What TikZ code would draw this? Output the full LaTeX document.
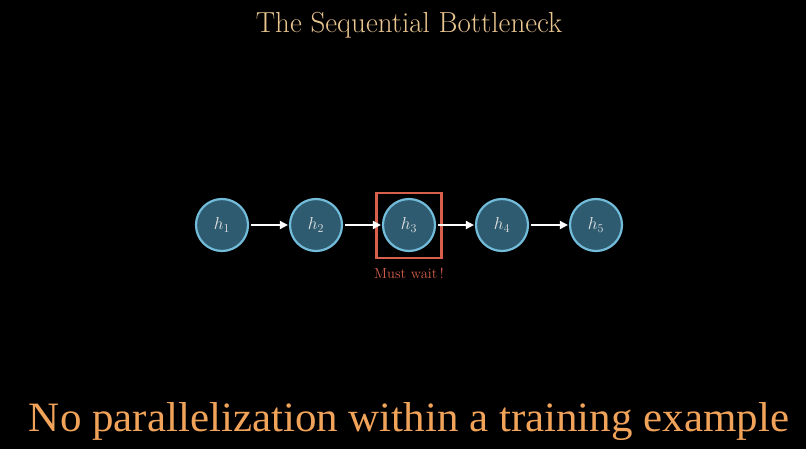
\documentclass[tikz,border=0pt]{standalone}
\usepackage{fontspec}
\newfontfamily\capfont{Liberation Serif}
\usetikzlibrary{arrows.meta}
\definecolor{bg}{HTML}{000000}
\definecolor{nodefill}{HTML}{2E5B6F}
\definecolor{nodeedge}{HTML}{72BCDA}
\definecolor{boxred}{HTML}{D7604C}
\definecolor{titlecol}{HTML}{E9C590}
\definecolor{capcol}{HTML}{F2A35A}
\tikzset{
  hnode/.style={circle,draw=nodeedge,fill=nodefill,line width=2.2pt,minimum size=52pt,inner sep=0pt,text=white!90!black,font=\fontsize{18}{18}\selectfont},
  flow/.style={draw=white,line width=1.8pt,-{Triangle[length=8pt,width=8pt]}},
  waitbox/.style={draw=boxred,line width=2.5pt,minimum width=65pt,minimum height=65pt,inner sep=0pt},
}
\begin{document}
\begin{tikzpicture}[x=1pt,y=1pt]
\fill[bg] (0,0) rectangle (806,-449);
\useasboundingbox (0,0) rectangle (806,-449);
\node[text=titlecol,font=\fontsize{29}{29}\selectfont] (title) at (409,-25) {The Sequential Bottleneck};
\node[hnode] (h1) at (222,-225) {$h_1$};
\node[hnode] (h2) at (316,-225) {$h_2$};
\node[hnode] (h3) at (409,-225) {$h_3$};
\node[hnode] (h4) at (502,-225) {$h_4$};
\node[hnode] (h5) at (596,-225) {$h_5$};
\node[waitbox] (box) at (409,-225.5) {};
\node[text=boxred,font=\fontsize{14.5}{14.5}\selectfont] (wait) at (409,-273) {Must wait\,!};
\draw[flow] ([xshift=2pt]h1.east) -- ([xshift=-1pt]h2.west);
\draw[flow] ([xshift=2pt]h2.east) -- ([xshift=-1pt]h3.west);
\draw[flow] ([xshift=2pt]h3.east) -- ([xshift=-1pt]h4.west);
\draw[flow] ([xshift=2pt]h4.east) -- ([xshift=-1pt]h5.west);
\node[text=capcol,font=\capfont\fontsize{39}{39}\selectfont,anchor=base] (cap) at (409,-431) {\resizebox{760pt}{29pt}{No parallelization within a training example}};
\end{tikzpicture}
\end{document}
